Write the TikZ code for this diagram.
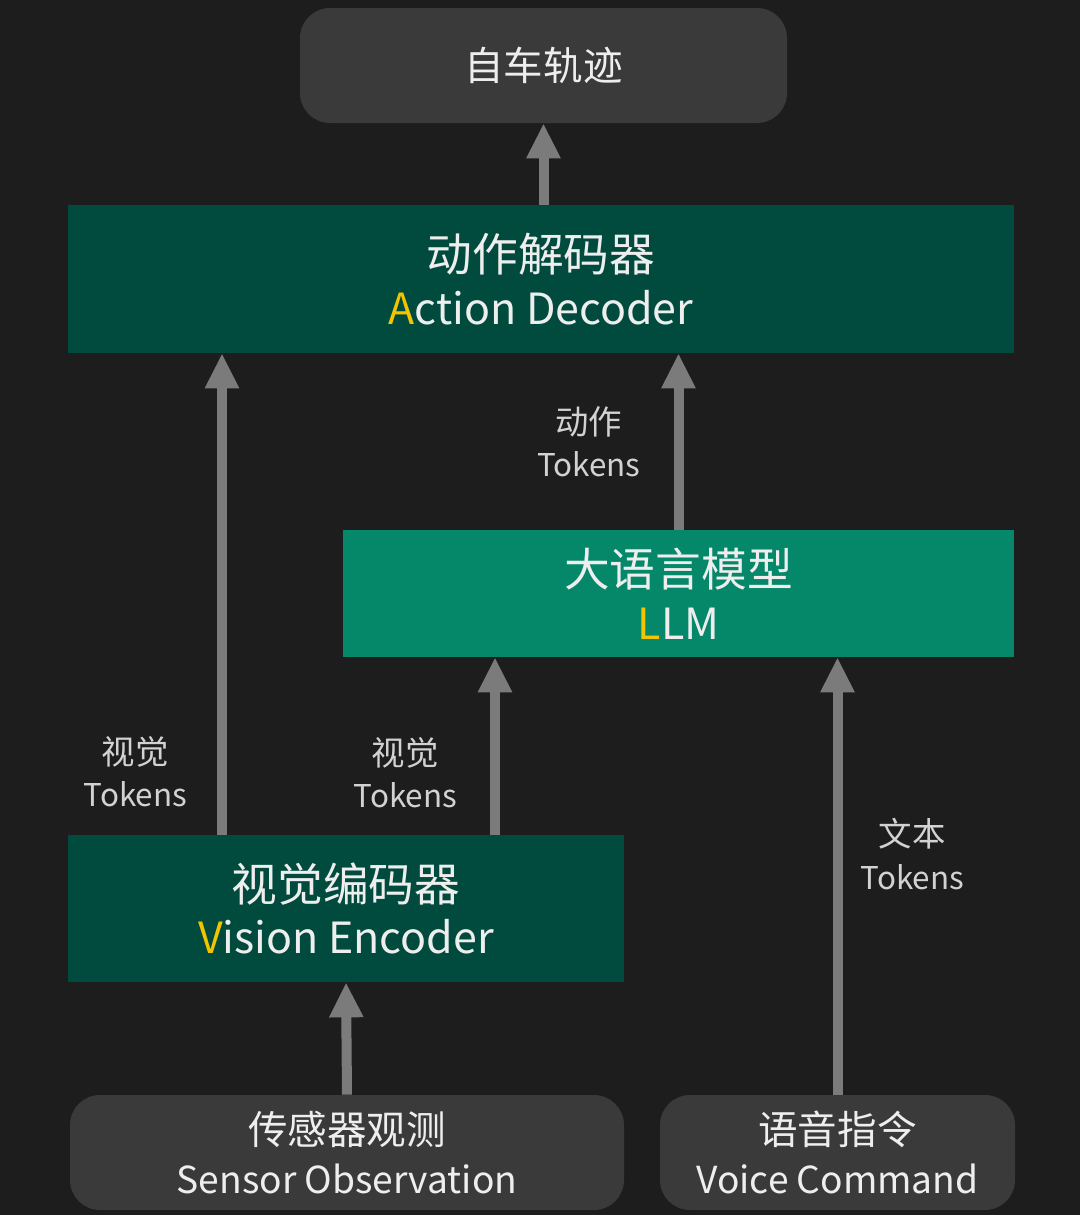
\documentclass[tikz,border=0pt]{standalone}
\usepackage{fontspec}
\setmainfont{Noto Sans CJK SC}
\newfontfamily\latin[Scale=0.94]{Noto Sans CJK SC}
\usepackage{xcolor}
\usetikzlibrary{arrows.meta,positioning}
\definecolor{bgdark}{HTML}{1D1D1D}
\definecolor{greyfill}{HTML}{3B3A3A}
\definecolor{deepgreen}{HTML}{004B3D}
\definecolor{llmgreen}{HTML}{05876A}
\definecolor{arrowgrey}{HTML}{7B7B7B}
\definecolor{boxtext}{HTML}{EEEEEE}
\definecolor{lbltext}{HTML}{D2D2D2}
\definecolor{accent}{HTML}{F2C500}
\newcommand{\hl}[1]{\textcolor{accent}{#1}}

\begin{document}
\begin{tikzpicture}[
  greybox/.style={fill=greyfill,rounded corners=0.6cm,align=center,text=boxtext,
    minimum height=2.3cm,font=\fontsize{22.5}{28}\selectfont},
  greenbox/.style={fill=deepgreen,align=center,text=boxtext,font=\fontsize{26}{30}\selectfont},
  llmbox/.style={greenbox,fill=llmgreen},
  arrow/.style={-{Triangle[width=0.64cm,length=0.7cm]},line width=0.2cm,draw=arrowgrey},
  lbl/.style={align=center,text=lbltext,inner sep=0pt,font=\fontsize{19}{24}\selectfont}
]
\fill[bgdark] (0,0) rectangle (21.6,-24.3);
\node[greybox,minimum width=9.74cm] (traj) at (10.87,-1.31) {自车轨迹};
\node[greenbox,minimum width=18.92cm,minimum height=2.96cm] (decoder) at (10.82,-5.58) {动作解码器\\\latin\hl{A}ction Decoder};
\node[llmbox,minimum width=13.42cm,minimum height=2.54cm] (llm) at (13.57,-11.87) {大语言模型\\\latin\hl{L}LM};
\node[greenbox,minimum width=11.12cm,minimum height=2.94cm] (vision) at (6.92,-18.17) {视觉编码器\\\latin\hl{V}ision Encoder};
\node[greybox,minimum width=11.08cm] (sensor) at (6.94,-23.05) {传感器观测\\\latin Sensor Observation};
\node[greybox,minimum width=7.1cm] (voice) at (16.75,-23.05) {语音指令\\\latin Voice Command};
% connectors
\draw[arrow] (decoder.north -| traj.south) -- (traj.south);
\draw[arrow] ([xshift=-2.48cm]vision.north) -- node[lbl,pos=0.13,left=0.6cm] {视觉\\\latin Tokens} ([xshift=-2.48cm]vision.north |- decoder.south);
\draw[arrow] ([xshift=2.98cm]vision.north) -- node[lbl,pos=0.35,left=0.66cm] {视觉\\\latin Tokens} ([xshift=2.98cm]vision.north |- llm.south);
\draw[arrow] (llm.north) -- node[lbl,pos=0.5,left=0.66cm] {动作\\\latin Tokens} (llm.north |- decoder.south);
\draw[arrow] (sensor.north) -- (vision.south);
\draw[arrow] (voice.north) -- node[lbl,pos=0.55,right=0.36cm] {文本\\\latin Tokens} (voice.north |- llm.south);
\end{tikzpicture}
\end{document}
